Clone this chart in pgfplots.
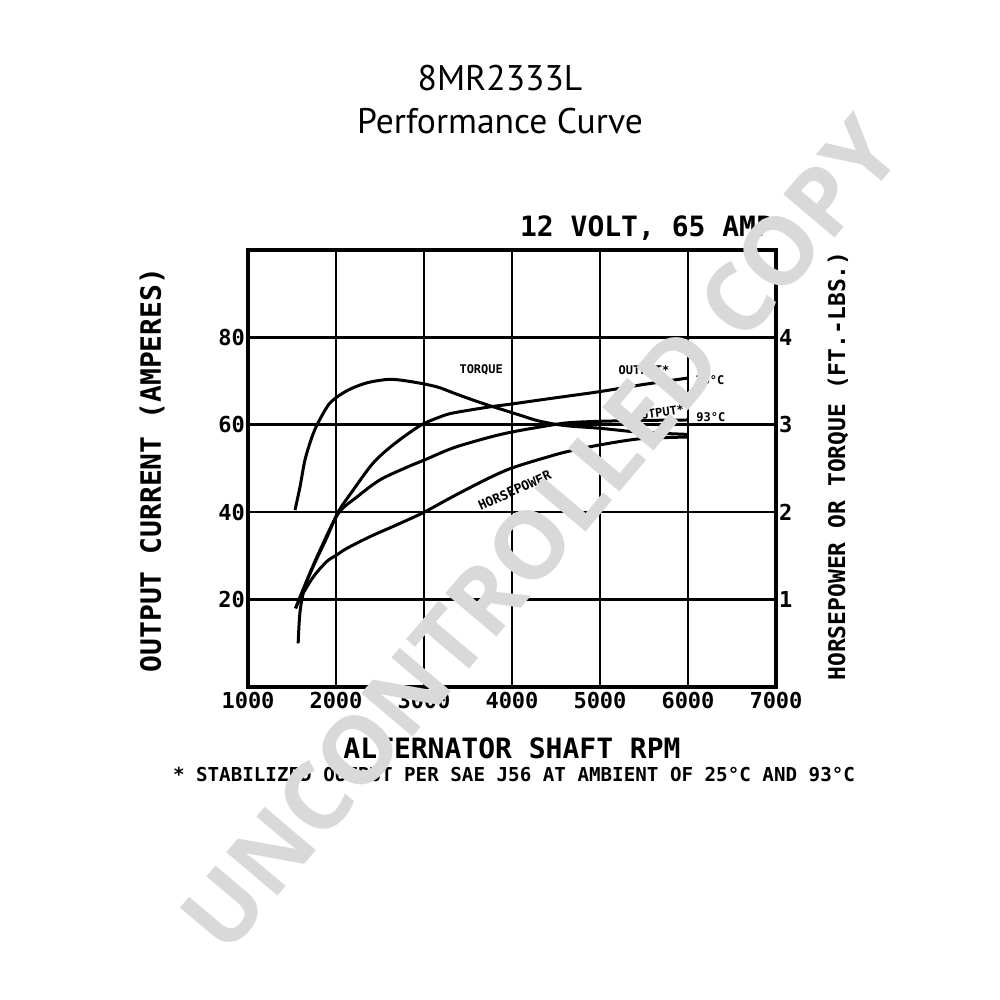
\documentclass[border=0pt]{standalone}
\usepackage{pgfplots}
\pgfplotsset{compat=1.18}
\usepackage{fontspec}
\setmainfont{DejaVu Sans Mono}
\newfontfamily\titlefont{PT Sans}
\newfontfamily\cf{DejaVu Sans Mono}
\newfontfamily\wmfont{Open Sans}
\definecolor{wm}{HTML}{D9D9D9}

% Output current (A) vs alternator shaft RPM
\pgfplotstableread{
rpm amp
1570 10
1590 17
1640 22.5
1739 27.5
1898 34.3
2023 40
2193 45
2420 51.2
2648 55.4
2955 59.8
3182 61.8
3330 62.7
3716 64
4011 64.8
4466 66.1
5000 67.6
5455 69.1
6000 70.7
}\outA
\pgfplotstableread{
rpm amp
1540 18
1650 23.5
1800 30.5
2023 39.6
2239 43.5
2500 47.4
2807 50.3
3011 52
3330 54.7
3716 57
4011 58.4
4466 60
4659 60.5
5000 60.8
5500 61
6000 61.1
}\outB
% Torque (ft-lbs) and horsepower
\pgfplotstableread{
rpm val
1534 2.025
1591 2.29
1648 2.60
1727 2.86
1795 3.02
1932 3.25
2125 3.39
2352 3.48
2614 3.52
2875 3.49
3144 3.435
3333 3.365
3523 3.295
3712 3.23
3902 3.17
4091 3.11
4280 3.05
4470 3.01
4659 2.985
5000 2.96
5455 2.915
6000 2.89
}\torque
\pgfplotstableread{
rpm val
1540 0.90
1600 1.025
1742 1.26
1894 1.435
2008 1.51
2121 1.585
2386 1.72
2689 1.855
2992 1.995
3330 2.18
3716 2.38
4011 2.51
4466 2.65
4659 2.70
5000 2.77
5455 2.84
6000 2.86
}\hp

\begin{document}
\begin{tikzpicture}
\path[use as bounding box] (0,0) rectangle (500pt,500pt);

\begin{axis}[
  at={(124pt,156.5pt)}, anchor=south west,
  scale only axis, width=264pt, height=218.5pt,
  xmin=1000, xmax=7000, ymin=0, ymax=100,
  xtick={1000,2000,3000,4000,5000,6000,7000},
  xticklabels={1000,2000,3000,4000,5000,6000,7000},
  ytick={20,40,60,80},
  yticklabels={20,40,60,80},
  grid=major,
  major grid style={line width=1.3pt, black},
  axis line style={line width=2pt},
  tick style={draw=none},
  xticklabel style={font=\cf\bfseries\fontsize{11}{11}\selectfont, yshift=1pt},
  yticklabel style={font=\cf\bfseries\fontsize{11}{11}\selectfont, xshift=2pt},
  clip=false,
]
\addplot[line width=1.5pt, smooth] table[x=rpm,y=amp] {\outA};
\addplot[line width=1.5pt, smooth] table[x=rpm,y=amp] {\outB};
\node[font=\cf\bfseries\fontsize{6}{6}\selectfont] at (axis cs:3650,72.5) {TORQUE};
\node[font=\cf\bfseries\fontsize{6}{6}\selectfont] at (axis cs:5500,72.5) {OUTPUT*};
\node[font=\cf\bfseries\fontsize{6}{6}\selectfont] at (axis cs:6250,70.2) {25\textdegree C};
\node[font=\cf\bfseries\fontsize{6}{6}\selectfont, rotate=8] at (axis cs:5670,62.8) {OUTPUT*};
\node[font=\cf\bfseries\fontsize{6}{6}\selectfont] at (axis cs:6260,61.8) {93\textdegree C};
\node[font=\cf\bfseries\fontsize{6.5}{6.5}\selectfont, rotate=24] at (axis cs:4030,45) {HORSEPOWER};
\end{axis}

\begin{axis}[
  at={(124pt,156.5pt)}, anchor=south west,
  scale only axis, width=264pt, height=218.5pt,
  xmin=1000, xmax=7000, ymin=0, ymax=5,
  axis y line*=right, axis x line=none,
  ytick={1,2,3,4}, yticklabels={1,2,3,4},
  axis line style={line width=2pt},
  tick style={draw=none},
  yticklabel style={font=\cf\bfseries\fontsize{11}{11}\selectfont, xshift=-2pt},
]
\addplot[line width=1.5pt, smooth] table[x=rpm,y=val] {\torque};
\addplot[line width=1.5pt, smooth] table[x=rpm,y=val] {\hp};
\end{axis}

% titles and labels
\node[font=\titlefont\fontsize{17.8}{17.8}\selectfont] at (250pt,461pt) {8MR2333L};
\node[font=\titlefont\fontsize{17.8}{17.8}\selectfont] at (250pt,439.5pt) {Performance Curve};
\node[font=\cf\bfseries\fontsize{14}{14}\selectfont, anchor=east] at (390pt,386pt) {12 VOLT, 65 AMP};
\node[font=\cf\bfseries\fontsize{14}{14}\selectfont, rotate=90] at (76pt,265pt) {OUTPUT CURRENT (AMPERES)};
\node[font=\cf\bfseries\fontsize{11.5}{11.5}\selectfont, rotate=90] at (419pt,267pt) {HORSEPOWER OR TORQUE (FT.-LBS.)};
\node[font=\cf\bfseries\fontsize{14}{14}\selectfont] at (256pt,126pt) {ALTERNATOR SHAFT RPM};
\node[font=\cf\bfseries\fontsize{9.6}{9.6}\selectfont] at (257pt,112.5pt) {* STABILIZED OUTPUT PER SAE J56 AT AMBIENT OF 25\textdegree C AND 93\textdegree C};

% watermark
\node[font=\wmfont\bfseries\fontsize{47}{47}\selectfont, text=wm, rotate=49.8] at (270pt,233pt) {UNCONTROLLED COPY};
\end{tikzpicture}
\end{document}
